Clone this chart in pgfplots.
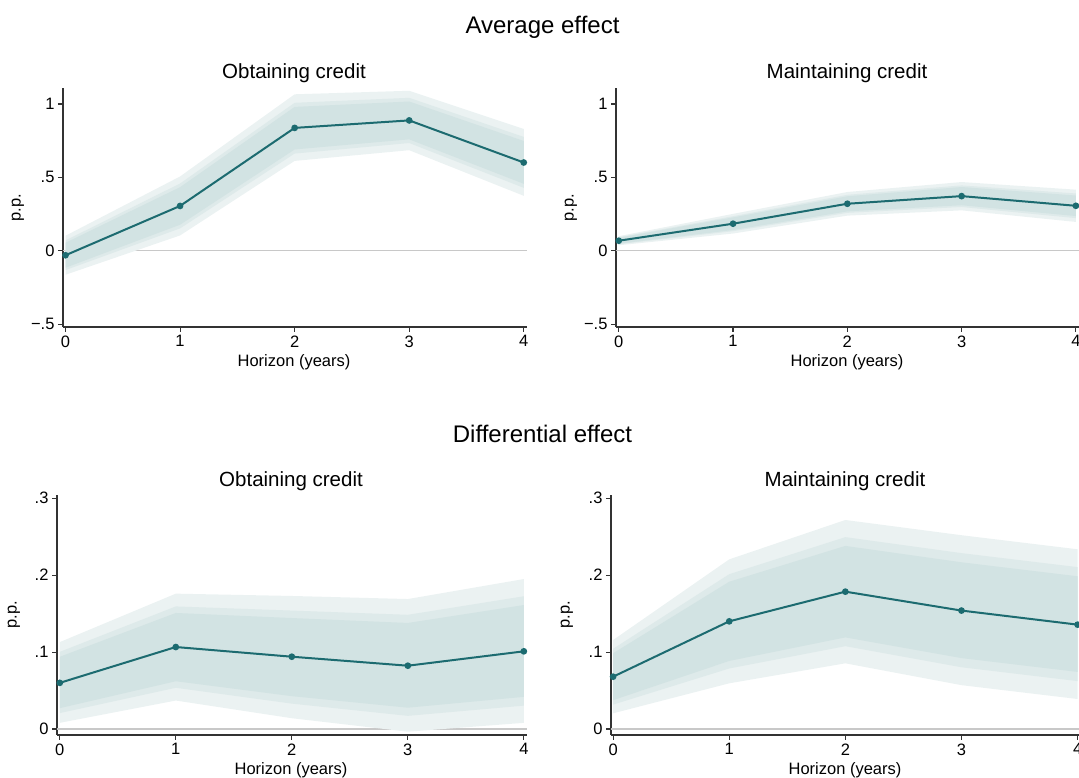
\documentclass[border=0pt]{standalone}
\usepackage{pgfplots}
\pgfplotsset{compat=1.18}
\usepackage{fontspec}
\setmainfont{Liberation Sans}
\definecolor{ln}{HTML}{1C6B70}
\definecolor{bo}{HTML}{EBF2F2}
\definecolor{bm}{HTML}{DEEAEA}
\definecolor{bi}{HTML}{D2E3E3}
\definecolor{zl}{HTML}{C8C8C8}
\definecolor{ax}{HTML}{333333}
\newcommand{\tkf}{\fontsize{16.5}{18}\selectfont}
\newcommand{\stf}{\fontsize{20.5}{22}\selectfont}
\newcommand{\ttf}{\fontsize{24}{26}\selectfont}
\pgfplotsset{
  panel/.style={
    scale only axis,
    anchor=south west,
    axis x line*=bottom, axis y line*=left,
    axis line style={ax, line width=1.1pt},
    every tick/.style={ax, line width=1.1pt},
    tick align=outside, major tick length=5pt,
    xtick={0,1,2,3,4}, xticklabels={0,1,2,3,4},
    tick label style={font=\tkf},
    /pgf/number format/assume math mode=true,
    clip=false,
  },
  band/.style={draw=none, fill=#1, forget plot},
  est/.style={ln, line width=2pt, mark=*, mark size=2.3pt, mark options={fill=ln, draw=ln}},
}
\begin{document}
\begin{tikzpicture}
\path[use as bounding box] (0pt,0pt) rectangle (1079pt,778pt);

% ---------------- Top left: Average effect, Obtaining credit
\begin{axis}[panel, at={(63pt,451pt)}, width=463.5pt, height=239pt,
  xmin=-0.022, xmax=4.024, ymin=-0.52, ymax=1.109,
  ytick={-0.5,0,0.5,1}, yticklabels={−.5,0,.5,1}]
\addplot[zl, line width=1.5pt] coordinates {(-0.022,0) (4.024,0)};
\addplot[band=bo] coordinates {(0,0.102) (1,0.506) (2,1.066) (3,1.090) (4,0.830) (4,0.374) (3,0.685) (2,0.612) (1,0.104) (0,-0.164)} -- cycle;
\addplot[band=bm] coordinates {(0,0.070) (1,0.458) (2,1.008) (3,1.042) (4,0.7755) (4,0.4285) (3,0.734) (2,0.662) (1,0.152) (0,-0.132)} -- cycle;
\addplot[band=bi] coordinates {(0,0.054) (1,0.433) (2,0.980) (3,1.017) (4,0.748) (4,0.456) (3,0.759) (2,0.690) (1,0.177) (0,-0.116)} -- cycle;
\addplot[est] coordinates {(0,-0.031) (1,0.305) (2,0.837) (3,0.888) (4,0.601)};
\end{axis}

% ---------------- Top right: Average effect, Maintaining credit
\begin{axis}[panel, at={(616pt,451pt)}, width=463pt, height=239pt,
  xmin=-0.024, xmax=4.027, ymin=-0.52, ymax=1.109,
  ytick={-0.5,0,0.5,1}, yticklabels={−.5,0,.5,1}]
\addplot[zl, line width=1.5pt] coordinates {(-0.024,0) (4.027,0)};
\addplot[band=bo] coordinates {(0,0.099) (1,0.251) (2,0.400) (3,0.468) (4,0.416) (4,0.196) (3,0.275) (2,0.239) (1,0.117) (0,0.037)} -- cycle;
\addplot[band=bm] coordinates {(0,0.092) (1,0.235) (2,0.381) (3,0.445) (4,0.390) (4,0.222) (3,0.298) (2,0.258) (1,0.133) (0,0.044)} -- cycle;
\addplot[band=bi] coordinates {(0,0.088) (1,0.227) (2,0.371) (3,0.434) (4,0.376) (4,0.236) (3,0.310) (2,0.268) (1,0.141) (0,0.048)} -- cycle;
\addplot[est] coordinates {(0,0.068) (1,0.184) (2,0.320) (3,0.372) (4,0.306)};
\end{axis}

% ---------------- Bottom left: Differential effect, Obtaining credit
\begin{axis}[panel, at={(57pt,43pt)}, width=469.5pt, height=240pt,
  xmin=-0.024, xmax=4.023, ymin=-0.0078, ymax=0.3043,
  ytick={0,0.1,0.2,0.3}, yticklabels={0,.1,.2,.3}]
\addplot[zl, line width=1.5pt] coordinates {(-0.024,0) (4.023,0)};
\addplot[band=bo] coordinates {(0,0.113) (1,0.176) (2,0.173) (3,0.169) (4,0.195) (4,0.008) (3,-0.0035) (2,0.014) (1,0.037) (0,0.008)} -- cycle;
\addplot[band=bm] coordinates {(0,0.1003) (1,0.1594) (2,0.154) (3,0.1485) (4,0.1726) (4,0.0304) (3,0.0171) (2,0.033) (1,0.0536) (0,0.0207)} -- cycle;
\addplot[band=bi] coordinates {(0,0.0939) (1,0.1509) (2,0.1443) (3,0.1379) (4,0.1612) (4,0.0418) (3,0.0277) (2,0.0427) (1,0.0621) (0,0.0271)} -- cycle;
\addplot[est] coordinates {(0,0.060) (1,0.1066) (2,0.094) (3,0.0823) (4,0.101)};
\end{axis}

% ---------------- Bottom right: Differential effect, Maintaining credit
\begin{axis}[panel, at={(611pt,43pt)}, width=468pt, height=240pt,
  xmin=-0.018, xmax=4.012, ymin=-0.0078, ymax=0.3043,
  ytick={0,0.1,0.2,0.3}, yticklabels={0,.1,.2,.3}]
\addplot[zl, line width=1.5pt] coordinates {(-0.018,0) (4.012,0)};
\addplot[band=bo] coordinates {(0,0.1157) (1,0.2206) (2,0.2718) (3,0.252) (4,0.2337) (4,0.039) (3,0.057) (2,0.0854) (1,0.0594) (0,0.0204)} -- cycle;
\addplot[band=bm] coordinates {(0,0.1043) (1,0.2013) (2,0.2495) (3,0.2287) (4,0.2105) (4,0.0623) (3,0.0803) (2,0.1077) (1,0.0787) (0,0.0317)} -- cycle;
\addplot[band=bi] coordinates {(0,0.0985) (1,0.1915) (2,0.2381) (3,0.2168) (4,0.1986) (4,0.0742) (3,0.0922) (2,0.1191) (1,0.0885) (0,0.0375)} -- cycle;
\addplot[est] coordinates {(0,0.068) (1,0.140) (2,0.1786) (3,0.154) (4,0.1357)};
\end{axis}

% ---------------- Texts
\node[anchor=base, font=\ttf, inner sep=0pt] at (542.5pt,744.7pt) {Average effect};
\node[anchor=base, font=\ttf, inner sep=0pt] at (542.5pt,335.7pt) {Differential effect};
\node[anchor=base, font=\stf, inner sep=0pt] at (294pt,699pt) {Obtaining credit};
\node[anchor=base, font=\stf, inner sep=0pt] at (847pt,699pt) {Maintaining credit};
\node[anchor=base, font=\stf, inner sep=0pt] at (291pt,291pt) {Obtaining credit};
\node[anchor=base, font=\stf, inner sep=0pt] at (845pt,291pt) {Maintaining credit};
\node[anchor=base, font=\tkf, inner sep=0pt] at (294pt,411.3pt) {Horizon (years)};
\node[anchor=base, font=\tkf, inner sep=0pt] at (847pt,411.3pt) {Horizon (years)};
\node[anchor=base, font=\tkf, inner sep=0pt] at (291pt,3.5pt) {Horizon (years)};
\node[anchor=base, font=\tkf, inner sep=0pt] at (845pt,3.5pt) {Horizon (years)};
\node[rotate=90, font=\tkf, inner sep=0pt] at (18pt,570pt) {p.p.};
\node[rotate=90, font=\tkf, inner sep=0pt] at (571pt,570pt) {p.p.};
\node[rotate=90, font=\tkf, inner sep=0pt] at (14pt,163pt) {p.p.};
\node[rotate=90, font=\tkf, inner sep=0pt] at (567pt,163pt) {p.p.};
\end{tikzpicture}
\end{document}
